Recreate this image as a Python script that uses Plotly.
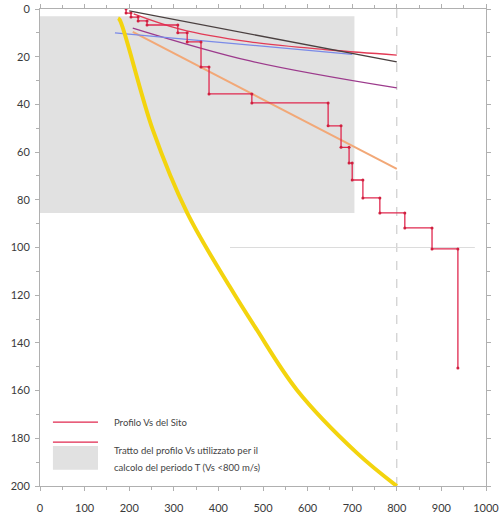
import plotly.graph_objects as go

# ---- data ----
# Site Vs profile: layer velocities (m/s) and layer boundaries (m)
vs_layers = [193, 204, 220, 240, 309, 330, 361, 379, 475, 646, 675, 693, 700, 724, 762, 818, 879, 937]
depth_bounds = [0, 1.7, 3.4, 5, 6.7, 10, 13.8, 24.3, 35.6, 39.4, 49, 58, 64.6, 71.7, 79.2, 85.5, 91.8, 100.6, 150.5]

# Portion used for period T (Vs < 800 m/s)
shade_vs = [0, 705]
shade_depth = [3, 85.5]

# Fitted lines (Vs, depth)
dark_vs = [200, 800]
dark_d = [0.8, 22.2]
red_vs = [210, 314, 471, 650, 800]
red_d = [2.0, 8.4, 13.8, 17.2, 19.3]
blue_vs = [168, 471, 700]
blue_d = [10, 15.3, 19]
purple_vs = [208, 471, 800]
purple_d = [8.0, 21.8, 33.1]
orange_vs = [208, 800]
orange_d = [9.6, 67]
yellow_vs = [175, 179, 253, 330, 426, 482, 576, 711, 800]
yellow_d = [3.9, 4.6, 50.7, 85.5, 116.6, 133.3, 159.7, 186.2, 200]

ref_vs = 800
bedrock_vs = [426, 975]
bedrock_d = 100

x_ticks = list(range(0, 1001, 100))
y_ticks = list(range(0, 201, 20))

# ---- build step profile ----
step_x, step_y = [], []
for i, v in enumerate(vs_layers):
    step_x += [v, v]
    step_y += [depth_bounds[i], depth_bounds[i + 1]]

fig = go.Figure()

fig.add_trace(go.Scatter(
    x=[shade_vs[0], shade_vs[1], shade_vs[1], shade_vs[0], shade_vs[0]],
    y=[shade_depth[0], shade_depth[0], shade_depth[1], shade_depth[1], shade_depth[0]],
    fill="toself", fillcolor="rgb(225,225,225)", mode="none", hoverinfo="skip",
    showlegend=False))

fig.add_trace(go.Scatter(x=[ref_vs, ref_vs], y=[0, 200], mode="lines",
                         line=dict(color="#c4c4c4", width=1, dash="dash"), showlegend=False))
fig.add_trace(go.Scatter(x=bedrock_vs, y=[bedrock_d, bedrock_d], mode="lines",
                         line=dict(color="#dcdcdc", width=1), showlegend=False))

fig.add_trace(go.Scatter(x=orange_vs, y=orange_d, mode="lines",
                         line=dict(color="#f2a877", width=2), showlegend=False))
fig.add_trace(go.Scatter(x=purple_vs, y=purple_d, mode="lines",
                         line=dict(color="#9c3a8c", width=1.3, shape="spline"), showlegend=False))
fig.add_trace(go.Scatter(x=blue_vs, y=blue_d, mode="lines",
                         line=dict(color="#7a8ae8", width=1.3), showlegend=False))
fig.add_trace(go.Scatter(x=red_vs, y=red_d, mode="lines",
                         line=dict(color="#e23a55", width=1.3, shape="spline"), showlegend=False))
fig.add_trace(go.Scatter(x=dark_vs, y=dark_d, mode="lines",
                         line=dict(color="#4a4040", width=1.3), showlegend=False))

fig.add_trace(go.Scatter(x=yellow_vs, y=yellow_d, mode="lines",
                         line=dict(color="#f3d40e", width=4, shape="spline"), showlegend=False))

fig.add_trace(go.Scatter(x=step_x, y=step_y, mode="lines+markers",
                         line=dict(color="#e0284f", width=1.3),
                         marker=dict(color="#d0203f", size=3), showlegend=False))

# ---- manual legend ----
leg_x0, leg_x1 = 0.029, 0.130
fig.add_shape(type="line", xref="paper", yref="paper", x0=leg_x0, x1=leg_x1, y0=0.134, y1=0.134,
              line=dict(color="#e0284f", width=1.3))
fig.add_shape(type="line", xref="paper", yref="paper", x0=leg_x0, x1=leg_x1, y0=0.092, y1=0.092,
              line=dict(color="#e0284f", width=1.3))
fig.add_shape(type="rect", xref="paper", yref="paper", x0=leg_x0, x1=leg_x1, y0=0.034, y1=0.084,
              fillcolor="rgb(225,225,225)", line=dict(width=0))
font_leg = dict(family="Lato, Open Sans, sans-serif", size=9.5, color="#444")
fig.add_annotation(xref="paper", yref="paper", x=0.161, y=0.134, text="Profilo Vs del Sito",
                   showarrow=False, xanchor="left", yanchor="middle", font=font_leg)
fig.add_annotation(xref="paper", yref="paper", x=0.161, y=0.074,
                   text="Tratto del profilo Vs utilizzato per il",
                   showarrow=False, xanchor="left", yanchor="middle", font=font_leg)
fig.add_annotation(xref="paper", yref="paper", x=0.161, y=0.038,
                   text="calcolo del periodo T (Vs <800 m/s)",
                   showarrow=False, xanchor="left", yanchor="middle", font=font_leg)

axis_common = dict(showgrid=False, zeroline=False, showline=True, linecolor="#b0b0b0",
                   linewidth=1, mirror="ticks", ticks="outside", ticklen=4, tickcolor="#b0b0b0",
                   automargin=False,
                   tickfont=dict(family="Lato, Open Sans, sans-serif", size=11, color="#3a3a3a"))

fig.update_xaxes(range=[0, 1000], tickvals=x_ticks, ticktext=[str(t) for t in x_ticks],
                 minor=dict(dtick=50, ticks="outside", ticklen=3, tickcolor="#b0b0b0"),
                 ticklabelstandoff=8, **axis_common)
fig.update_yaxes(range=[200, 0], tickvals=y_ticks, ticktext=[str(t) for t in y_ticks],
                 minor=dict(dtick=10, ticks="outside", ticklen=3, tickcolor="#b0b0b0"),
                 ticklabelstandoff=3, **axis_common)

fig.update_layout(width=500, height=515, margin=dict(l=40, r=14, t=9, b=29),
                  plot_bgcolor="white", paper_bgcolor="white", showlegend=False)

fig.write_html("out.html")
